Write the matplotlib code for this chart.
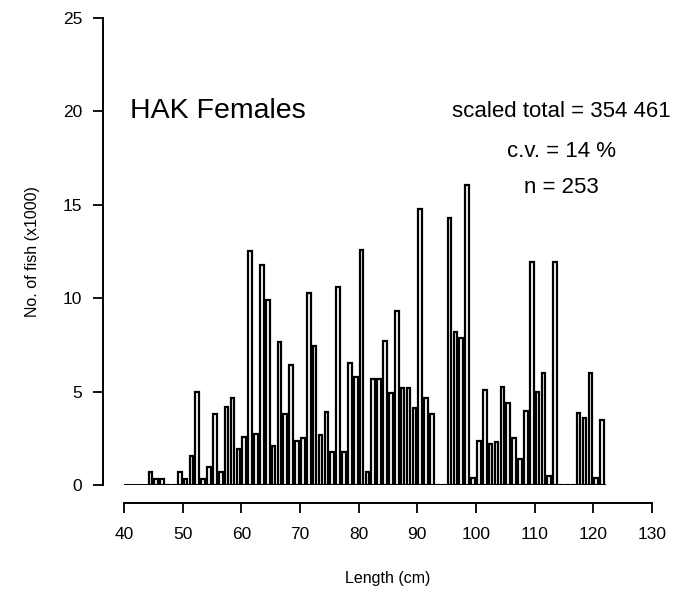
import matplotlib
matplotlib.use("Agg")
import matplotlib.pyplot as plt

plt.rcParams['font.family'] = ['Liberation Sans', 'DejaVu Sans']

# length classes (cm, lower bound of 1 cm bin) and numbers at length (x1000)
lengths = list(range(44, 122))
numbers = [0.7, 0.3, 0.3, 0, 0, 0.7, 0.3, 1.55, 5.0, 0.3,
           0.95, 3.8, 0.7, 4.2, 4.65, 1.95, 2.55, 12.55, 2.75, 11.8,
           9.9, 2.1, 7.65, 3.8, 6.4, 2.35, 2.5, 10.3, 7.45, 2.7,
           3.9, 1.75, 10.6, 1.75, 6.55, 5.8, 12.6, 0.7, 5.65, 5.65,
           7.7, 4.9, 9.3, 5.2, 5.2, 4.1, 14.75, 4.65, 3.8, 0,
           0, 14.3, 8.2, 7.85, 16.05, 0.4, 2.35, 5.1, 2.2, 2.3,
           5.25, 4.4, 2.5, 1.4, 3.95, 11.95, 5.0, 6.0, 0.5, 11.95,
           0, 0, 0, 3.85, 3.6, 6.0, 0.4, 3.5]

title = "HAK Females"
stats = ["scaled total = 354 461", "c.v. = 14 %", "n = 253"]

fig = plt.figure(figsize=(6.88, 5.96), dpi=100)
ax = fig.add_axes([0.1802, 0.1862, 0.7674, 0.7836])

centers = [l + 0.5 for l in lengths]
ax.bar(centers, numbers, width=0.62, color='white', edgecolor='black',
       linewidth=1.6)
ax.plot([40, lengths[-1] + 1], [0, 0], color='black', linewidth=1.4)

ax.set_xlim(40, 130)
ax.set_ylim(0, 25)
ax.set_xticks(range(40, 131, 10))
ax.set_yticks(range(0, 26, 5))

for s in ['top', 'right']:
    ax.spines[s].set_visible(False)
ax.spines['left'].set_position(('outward', 15))
ax.spines['bottom'].set_position(('outward', 13))
ax.spines['left'].set_bounds(0, 25)
ax.spines['bottom'].set_bounds(40, 130)
ax.spines['left'].set_linewidth(1.4)
ax.spines['bottom'].set_linewidth(1.4)
ax.tick_params(axis='both', direction='out', length=7, width=1.3,
               labelsize=12.5)
ax.tick_params(axis='x', pad=10)
ax.tick_params(axis='y', pad=8)

ax.set_xlabel("Length (cm)", fontsize=11.5)
ax.set_ylabel("No. of fish (x1000)", fontsize=11.5)
ax.xaxis.set_label_coords(0.5, -0.184)
ax.yaxis.set_label_coords(-0.159, 0.5)

ax.text(41.0, 20.0, title, fontsize=20.5, ha='left', va='center')
for txt, yy in zip(stats, [20.0, 17.85, 15.9]):
    ax.text(114.6, yy, txt, fontsize=16, ha='center', va='center')

fig.savefig("out.png", dpi=100)
